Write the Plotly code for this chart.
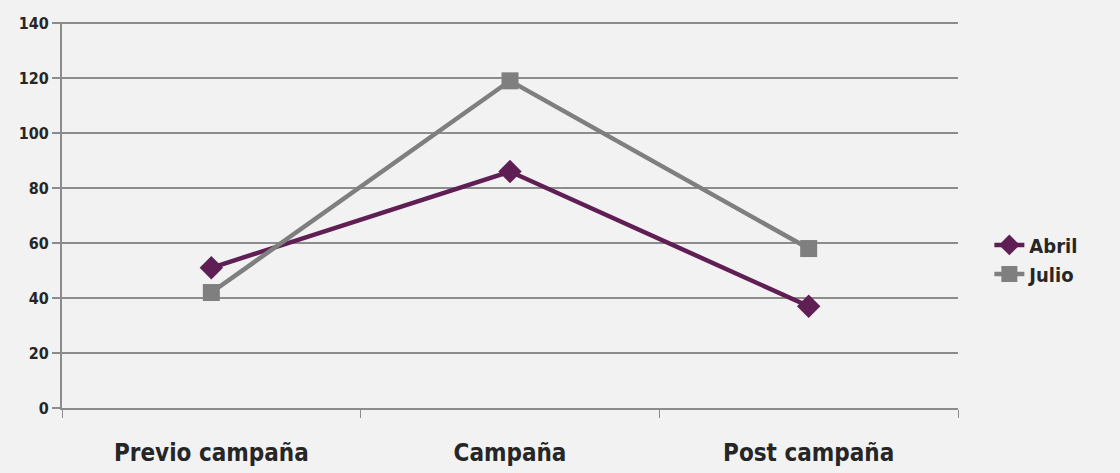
import plotly.graph_objects as go

# Survey periods and results per month
categorias = ["Previo campaña", "Campaña", "Post campaña"]
abril = [51, 86, 37]
julio = [42, 119, 58]
ticks_y = [0, 20, 40, 60, 80, 100, 120, 140]

fuente = "DejaVu Sans Condensed, DejaVu Sans"
texto = "#262626"

fig = go.Figure()
fig.add_trace(go.Scatter(
    x=categorias, y=abril, name="Abril", mode="lines+markers",
    line=dict(color="#5f1f55", width=4.5),
    marker=dict(symbol="diamond", size=18, color="#5f1f55"),
))
fig.add_trace(go.Scatter(
    x=categorias, y=julio, name="Julio", mode="lines+markers",
    line=dict(color="#7f7f7f", width=4.5),
    marker=dict(symbol="square", size=17, color="#7f7f7f"),
))

fig.update_layout(
    width=1120, height=473,
    margin=dict(l=62, r=162, t=22, b=65),
    paper_bgcolor="#f2f2f2", plot_bgcolor="#f2f2f2",
    font=dict(family=fuente, color=texto),
    legend=dict(
        x=1.035, xanchor="left", y=0.385, yanchor="middle",
        font=dict(size=20, family=fuente, color=texto, weight="bold"),
        bgcolor="rgba(0,0,0,0)", tracegroupgap=0, itemwidth=30,
    ),
    showlegend=True,
)
fig.update_xaxes(
    type="category", tickson="boundaries", range=[-0.5, 2.5],
    showline=True, linecolor="#8c8c8c", linewidth=2,
    ticks="outside", ticklen=8, tickcolor="#8c8c8c", tickwidth=1,
    showgrid=False, zeroline=False, ticklabelstandoff=22, automargin=False,
    tickfont=dict(size=24, family=fuente, color=texto, weight="bold"),
)
fig.update_yaxes(
    range=[0, 140.4], tickvals=ticks_y, automargin=False,
    showline=True, linecolor="#8c8c8c", linewidth=2,
    ticks="outside", ticklen=8, tickcolor="#8c8c8c", tickwidth=2,
    showgrid=True, gridcolor="#8c8c8c", gridwidth=2,
    zeroline=False,
    tickfont=dict(size=16, family=fuente, color=texto, weight="bold"),
)

fig.write_html("out.html")
